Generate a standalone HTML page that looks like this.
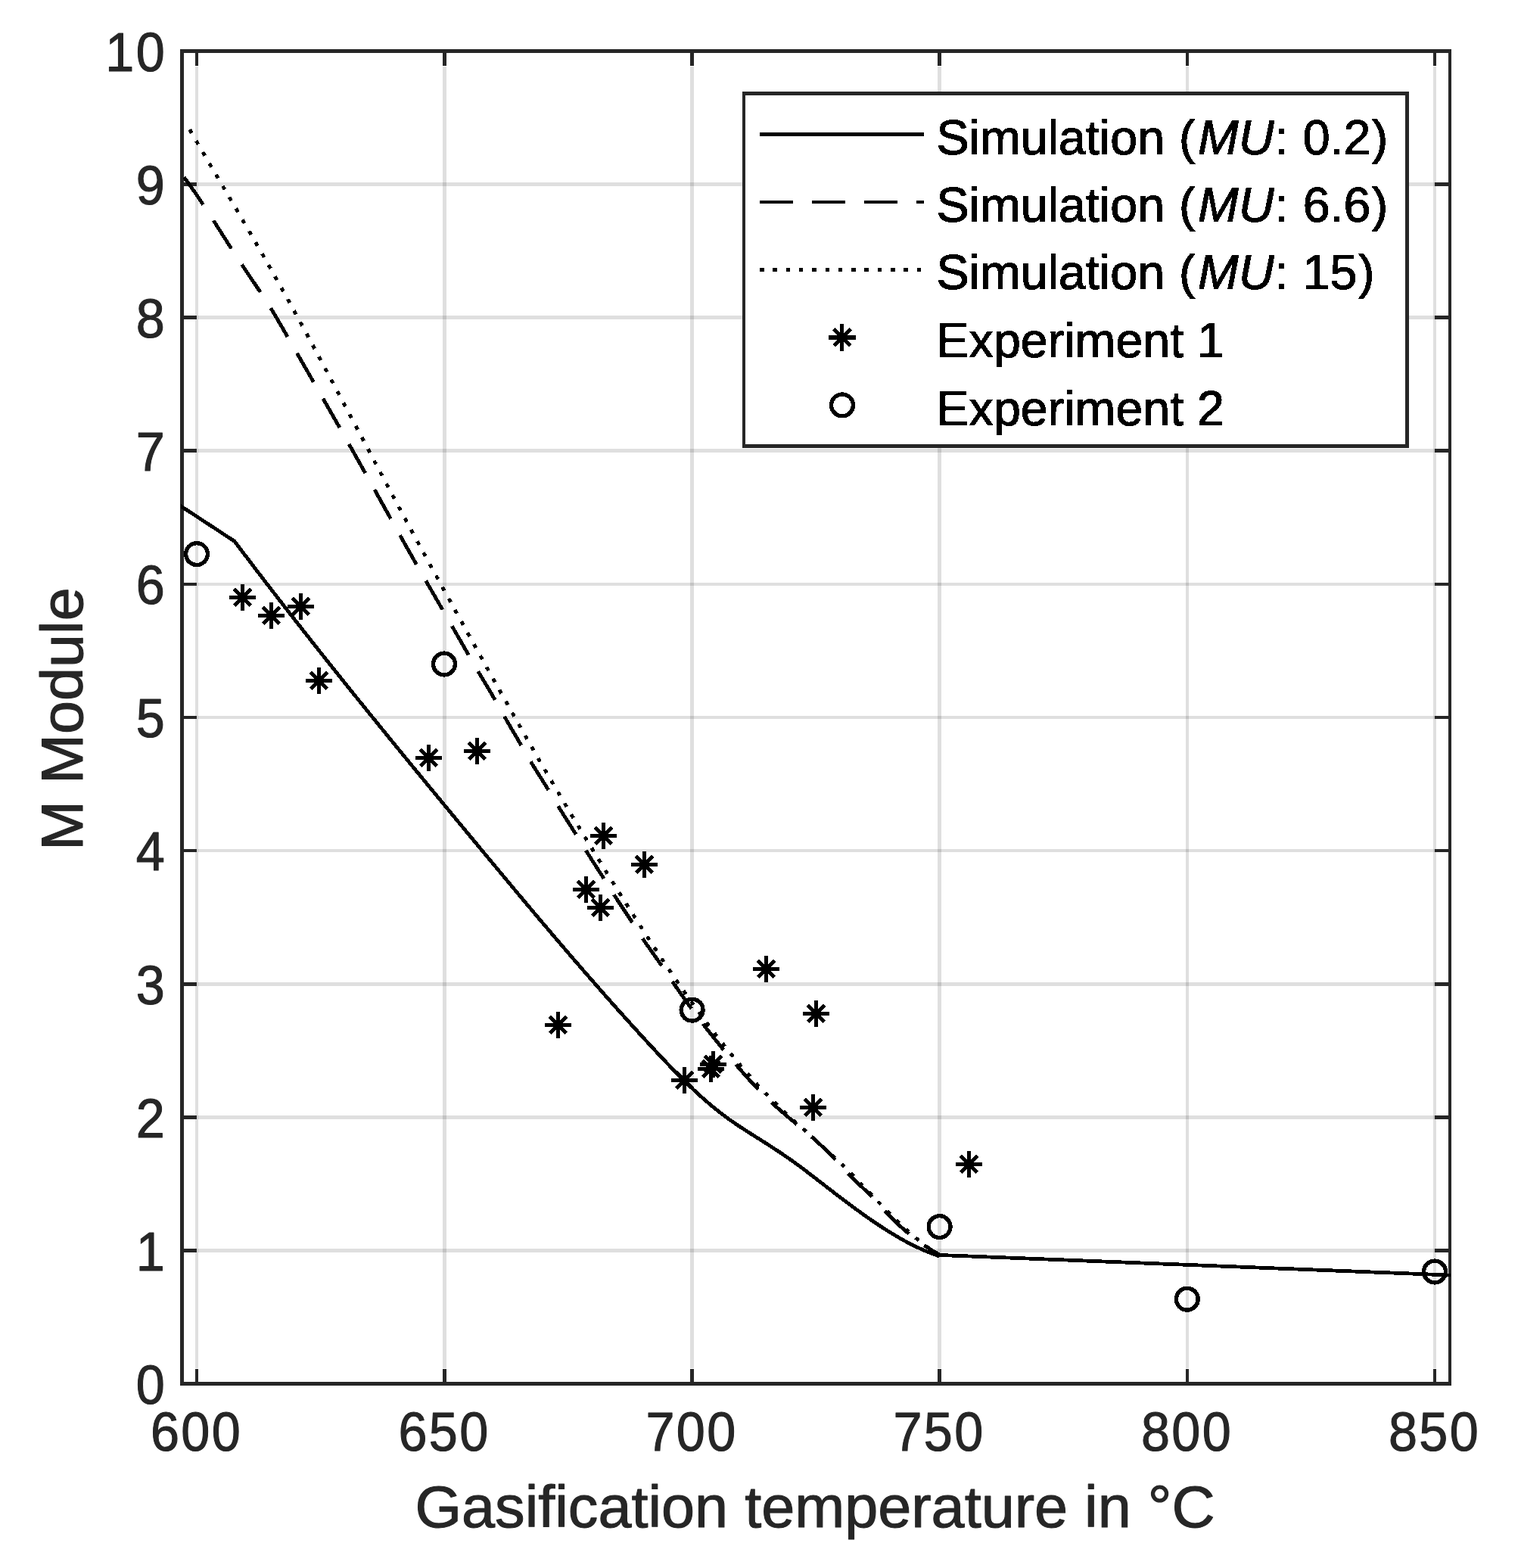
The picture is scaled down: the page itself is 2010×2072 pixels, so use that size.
<!DOCTYPE html>
<html lang="en">
<head>
<meta charset="utf-8">
<title>M Module vs. gasification temperature</title>
<style>html,body{margin:0;padding:0;background:#fff}body{width:2010px;height:2072px;overflow:hidden}svg{display:block}</style>
</head>
<body>
<svg width="2010" height="2072" viewBox="0 0 2010 2072" role="img" aria-label="M Module versus gasification temperature">
<rect width="2010" height="2072" fill="#fff"/>
<g id="grid" fill="#262626" fill-opacity="0.15" shape-rendering="crispEdges"><rect x="258" y="88" width="4" height="1720"/><rect x="585" y="88" width="5" height="1720"/><rect x="912" y="88" width="5" height="1720"/><rect x="1239" y="88" width="5" height="1720"/><rect x="1567" y="88" width="4" height="1720"/><rect x="1894" y="88" width="4" height="1720"/><rect x="261" y="241" width="1635" height="5"/><rect x="261" y="417" width="1635" height="5"/><rect x="261" y="593" width="1635" height="5"/><rect x="261" y="770" width="1635" height="4"/><rect x="261" y="946" width="1635" height="4"/><rect x="261" y="1122" width="1635" height="4"/><rect x="261" y="1298" width="1635" height="5"/><rect x="261" y="1474" width="1635" height="5"/><rect x="261" y="1650" width="1635" height="5"/></g>
<g id="axes" fill="#262626" shape-rendering="crispEdges"><rect x="238" y="65" width="1680" height="5"/><rect x="238" y="1826" width="1680" height="5"/><rect x="238" y="65" width="5" height="1766"/><rect x="1914" y="65" width="4" height="1766"/><rect x="258" y="70" width="4" height="17"/><rect x="258" y="1809" width="4" height="17"/><rect x="585" y="70" width="5" height="17"/><rect x="585" y="1809" width="5" height="17"/><rect x="912" y="70" width="5" height="17"/><rect x="912" y="1809" width="5" height="17"/><rect x="1239" y="70" width="5" height="17"/><rect x="1239" y="1809" width="5" height="17"/><rect x="1567" y="70" width="4" height="17"/><rect x="1567" y="1809" width="4" height="17"/><rect x="1894" y="70" width="4" height="17"/><rect x="1894" y="1809" width="4" height="17"/><rect x="243" y="241" width="17" height="5"/><rect x="1896" y="241" width="18" height="5"/><rect x="243" y="417" width="17" height="5"/><rect x="1896" y="417" width="18" height="5"/><rect x="243" y="593" width="17" height="5"/><rect x="1896" y="593" width="18" height="5"/><rect x="243" y="770" width="17" height="4"/><rect x="1896" y="770" width="18" height="4"/><rect x="243" y="946" width="17" height="4"/><rect x="1896" y="946" width="18" height="4"/><rect x="243" y="1122" width="17" height="4"/><rect x="1896" y="1122" width="18" height="4"/><rect x="243" y="1298" width="17" height="5"/><rect x="1896" y="1298" width="18" height="5"/><rect x="243" y="1474" width="17" height="5"/><rect x="1896" y="1474" width="18" height="5"/><rect x="243" y="1650" width="17" height="5"/><rect x="1896" y="1650" width="18" height="5"/></g>
<defs><clipPath id="c"><rect x="239" y="67.5" width="1678" height="1761"/></clipPath></defs>
<g id="curves" clip-path="url(#c)" fill="none" stroke="#000" stroke-width="4.8" stroke-linejoin="round" shape-rendering="crispEdges">
<path d="M236 666.8L310 715.3L315.62 722.75L318.74 726.87L321.85 730.99L324.96 735.1L328.07 739.2L331.18 743.29L334.3 747.38L337.41 751.46L340.52 755.54L343.63 759.61L346.74 763.67L349.86 767.73L352.97 771.78L356.08 775.82L359.19 779.86L362.3 783.89L365.42 787.92L368.53 791.94L371.64 795.96L374.75 799.97L377.86 803.97L380.98 807.97L384.09 811.96L387.2 815.95L390.31 819.93L393.43 823.91L396.54 827.88L399.65 831.85L402.76 835.81L405.87 839.77L408.99 843.72L412.1 847.67L415.21 851.61L418.32 855.55L421.43 859.48L424.55 863.41L427.66 867.33L430.77 871.25L433.88 875.16L436.99 879.07L440.11 882.98L443.22 886.88L446.33 890.78L449.44 894.67L452.55 898.56L455.67 902.44L458.78 906.32L461.89 910.2L465 914.07L468.11 917.94L471.23 921.8L474.34 925.67L477.45 929.52L480.56 933.38L483.67 937.23L486.79 941.08L489.9 944.92L493.01 948.76L496.12 952.6L499.23 956.43L502.35 960.26L505.46 964.09L508.57 967.91L511.68 971.73L514.79 975.55L517.91 979.37L521.02 983.18L524.13 986.99L527.24 990.8L530.35 994.61L533.47 998.41L536.58 1002.21L539.69 1006.01L542.8 1009.8L545.92 1013.59L549.03 1017.39L552.14 1021.17L555.25 1024.96L558.36 1028.75L561.48 1032.53L564.59 1036.31L567.7 1040.09L570.81 1043.86L573.92 1047.64L577.04 1051.41L580.15 1055.18L583.26 1058.96L586.37 1062.72L589.48 1066.49L592.6 1070.26L595.71 1074.02L598.82 1077.79L601.93 1081.55L605.04 1085.31L608.16 1089.07L611.27 1092.83L614.38 1096.59L617.49 1100.34L620.6 1104.1L623.72 1107.85L626.83 1111.61L629.94 1115.36L633.05 1119.11L636.16 1122.87L639.28 1126.61L642.39 1130.36L645.5 1134.11L648.61 1137.85L651.72 1141.59L654.84 1145.33L657.95 1149.07L661.06 1152.81L664.17 1156.54L667.28 1160.27L670.4 1164L673.51 1167.73L676.62 1171.45L679.73 1175.17L682.84 1178.89L685.96 1182.6L689.07 1186.31L692.18 1190.02L695.29 1193.72L698.41 1197.42L701.52 1201.12L704.63 1204.81L707.74 1208.5L710.85 1212.19L713.97 1215.87L717.08 1219.55L720.19 1223.22L723.3 1226.89L726.41 1230.55L729.53 1234.21L732.64 1237.86L735.75 1241.51L738.86 1245.16L741.97 1248.8L745.09 1252.43L748.2 1256.06L751.31 1259.68L754.42 1263.3L757.53 1266.91L760.65 1270.52L763.76 1274.12L766.87 1277.71L769.98 1281.3L773.09 1284.89L776.21 1288.46L779.32 1292.03L782.43 1295.59L785.54 1299.15L788.65 1302.7L791.77 1306.24L794.88 1309.78L797.99 1313.31L801.1 1316.83L804.21 1320.34L807.33 1323.85L810.44 1327.35L813.55 1330.84L816.66 1334.33L819.77 1337.8L822.89 1341.27L826 1344.73L829.11 1348.19L832.22 1351.63L835.33 1355.07L838.45 1358.49L841.56 1361.91L844.67 1365.32L847.78 1368.72L850.89 1372.11L854.01 1375.5L857.12 1378.87L860.23 1382.24L863.34 1385.59L866.46 1388.94L869.57 1392.27L872.68 1395.6L875.79 1398.92L878.9 1402.22L882.02 1405.5L885.13 1408.76L888.24 1412L891.35 1415.21L894.46 1418.39L897.58 1421.54L900.69 1424.66L903.8 1427.75L906.91 1430.8L910.02 1433.81L913.14 1436.79L916.25 1439.73L919.36 1442.63L922.47 1445.49L925.58 1448.31L928.7 1451.09L931.81 1453.83L934.92 1456.52L938.03 1459.17L941.14 1461.77L944.26 1464.33L947.37 1466.83L950.48 1469.29L953.59 1471.7L956.7 1474.06L959.82 1476.36L962.93 1478.62L966.04 1480.83L969.15 1483L972.26 1485.13L975.38 1487.22L978.49 1489.29L981.6 1491.32L984.71 1493.34L987.82 1495.34L990.94 1497.32L994.05 1499.29L997.16 1501.25L1000.27 1503.21L1003.38 1505.17L1006.5 1507.14L1009.61 1509.11L1012.72 1511.1L1015.83 1513.09L1018.95 1515.1L1022.06 1517.12L1025.17 1519.16L1028.28 1521.21L1031.39 1523.29L1034.51 1525.39L1037.62 1527.51L1040.73 1529.66L1043.84 1531.83L1046.95 1534.04L1050.07 1536.27L1053.18 1538.53L1056.29 1540.82L1059.4 1543.13L1062.51 1545.47L1065.63 1547.82L1068.74 1550.19L1071.85 1552.57L1074.96 1554.96L1078.07 1557.37L1081.19 1559.77L1084.3 1562.19L1087.41 1564.6L1090.52 1567.01L1093.63 1569.42L1096.75 1571.82L1099.86 1574.22L1102.97 1576.62L1106.08 1579L1109.19 1581.38L1112.31 1583.74L1115.42 1586.1L1118.53 1588.44L1121.64 1590.78L1124.75 1593.09L1127.87 1595.4L1130.98 1597.68L1134.09 1599.95L1137.2 1602.21L1140.31 1604.44L1143.43 1606.65L1146.54 1608.84L1149.65 1611.01L1152.76 1613.16L1155.87 1615.28L1158.99 1617.37L1162.1 1619.44L1165.21 1621.48L1168.32 1623.5L1171.44 1625.48L1174.55 1627.43L1177.66 1629.35L1180.77 1631.24L1183.88 1633.09L1187 1634.91L1190.11 1636.69L1193.22 1638.44L1196.33 1640.15L1199.44 1641.82L1202.56 1643.44L1205.67 1645.03L1208.78 1646.57L1211.89 1648.07L1215 1649.53L1218.12 1650.94L1221.23 1652.31L1224.34 1653.62L1227.45 1654.89L1230.56 1656.11L1233.68 1657.27L1236.79 1658.39L1239.9 1659.45L1240.5 1658.4L1920 1685.2"/>
<path d="M237.5 226.95L240.01 230.15L242.53 233.42L245.04 236.76L247.56 240.15L250.07 243.61L252.58 247.11L255.1 250.68L257.61 254.29L260.12 257.94L262.64 261.64L265.15 265.38L267.67 269.15L270.18 272.96L272.69 276.8L275.21 280.66L277.72 284.55L280.23 288.45L282.75 292.37L285.26 296.31L287.78 300.26L290.29 304.21L292.8 308.17L295.32 312.13L297.83 316.08L300.34 320.03L302.86 323.97L305.37 327.9L307.89 331.81L310.4 335.7L312.91 339.57L315.43 343.42L317.94 347.24L320.45 351.02L322.97 354.78L325.48 358.51L328 362.23L330.51 365.93L333.02 369.63L335.54 373.34L338.05 377.05L340.57 380.78L343.08 384.54L345.59 388.32L348.11 392.14L350.62 396.01L353.13 399.92L355.65 403.9L358.16 407.93L360.68 412.04L363.19 416.2L365.7 420.42L368.22 424.69L370.73 428.99L373.24 433.33L375.76 437.68L378.27 442.05L380.79 446.42L383.3 450.79L385.81 455.16L388.33 459.53L390.84 463.9L393.35 468.27L395.87 472.64L398.38 477.01L400.9 481.39L403.41 485.76L405.92 490.14L408.44 494.51L410.95 498.89L413.46 503.27L415.98 507.65L418.49 512.03L421.01 516.42L423.52 520.81L426.03 525.2L428.55 529.59L431.06 533.99L433.58 538.38L436.09 542.79L438.6 547.19L441.12 551.6L443.63 556.01L446.14 560.42L448.66 564.84L451.17 569.26L453.69 573.69L456.2 578.12L458.71 582.56L461.23 587L463.74 591.44L466.25 595.89L468.77 600.34L471.28 604.8L473.8 609.27L476.31 613.74L478.82 618.21L481.34 622.69L483.85 627.18L486.36 631.67L488.88 636.17L491.39 640.67L493.91 645.18L496.42 649.68L498.93 654.2L501.45 658.71L503.96 663.22L506.47 667.73L508.99 672.25L511.5 676.76L514.02 681.27L516.53 685.78L519.04 690.28L521.56 694.78L524.07 699.28L526.59 703.77L529.1 708.25L531.61 712.73L534.13 717.2L536.64 721.67L539.15 726.12L541.67 730.57L544.18 735.01L546.7 739.43L549.21 743.85L551.72 748.25L554.24 752.64L556.75 757.03L559.26 761.4L561.78 765.76L564.29 770.12L566.81 774.48L569.32 778.82L571.83 783.17L574.35 787.51L576.86 791.85L579.37 796.2L581.89 800.54L584.4 804.88L586.92 809.23L589.43 813.59L591.94 817.95L594.46 822.31L596.97 826.69L599.48 831.07L602 835.46L604.51 839.85L607.03 844.24L609.54 848.63L612.05 853.02L614.57 857.4L617.08 861.77L619.6 866.12L622.11 870.46L624.62 874.79L627.14 879.09L629.65 883.36L632.16 887.61L634.68 891.84L637.19 896.05L639.71 900.25L642.22 904.46L644.73 908.68L647.25 912.92L649.76 917.19L652.27 921.51L654.79 925.88L657.3 930.3L659.82 934.76L662.33 939.24L664.84 943.7L667.36 948.12L669.87 952.5L672.38 956.84L674.9 961.15L677.41 965.45L679.93 969.73L682.44 974.01L684.95 978.29L687.47 982.59L689.98 986.9L692.49 991.24L695.01 995.58L697.52 999.89L700.04 1004.15L702.55 1008.34L705.06 1012.46L707.58 1016.53L710.09 1020.55L712.61 1024.54L715.12 1028.53L717.63 1032.51L720.15 1036.51L722.66 1040.55L725.17 1044.63L727.69 1048.77L730.2 1052.95L732.72 1057.14L735.23 1061.31L737.74 1065.44L740.26 1069.53L742.77 1073.56L745.28 1077.56L747.8 1081.54L750.31 1085.5L752.83 1089.46L755.34 1093.42L757.85 1097.4L760.37 1101.4L762.88 1105.44L765.39 1109.51L767.91 1113.59L770.42 1117.67L772.94 1121.73L775.45 1125.75L777.96 1129.73L780.48 1133.68L782.99 1137.61L785.51 1141.52L788.02 1145.42L790.53 1149.33L793.05 1153.25L795.56 1157.18L798.07 1161.15L800.59 1165.15L803.1 1169.18L805.62 1173.2L808.13 1177.2L810.64 1181.16L813.16 1185.07L815.67 1188.92L818.18 1192.73L820.7 1196.52L823.21 1200.28L825.73 1204.04L828.24 1207.81L830.75 1211.59L833.27 1215.4L835.78 1219.25L838.29 1223.15L840.81 1227.08L843.32 1231.01L845.84 1234.91L848.35 1238.76L850.86 1242.52L853.38 1246.21L855.89 1249.84L858.4 1253.41L860.92 1256.96L863.43 1260.48L865.95 1264L868.46 1267.53L870.97 1271.09L873.49 1274.69L876 1278.34L878.52 1282.04L881.03 1285.77L883.54 1289.52L886.06 1293.28L888.57 1297.01L891.08 1300.72L893.6 1304.39L896.11 1308.03L898.63 1311.64L901.14 1315.22L903.65 1318.77L906.17 1322.3L908.68 1325.79L911.19 1329.26L913.71 1332.7L916.22 1336.11L918.74 1339.5L921.25 1342.86L923.76 1346.2L926.28 1349.51L928.79 1352.8L931.3 1356.06L933.82 1359.31L936.33 1362.53L938.85 1365.73L941.36 1368.91L943.87 1372.07L946.39 1375.21L948.9 1378.33L951.41 1381.43L953.93 1384.52L956.44 1387.59L958.96 1390.64L961.47 1393.67L963.98 1396.69L966.5 1399.68L969.01 1402.66L971.53 1405.61L974.04 1408.55L976.55 1411.46L979.07 1414.34L981.58 1417.2L984.09 1420.04L986.61 1422.85L989.12 1425.63L991.64 1428.38L994.15 1431.11L996.66 1433.8L999.18 1436.46L1001.69 1439.09L1004.2 1441.69L1006.72 1444.25L1009.23 1446.78L1011.75 1449.27L1014.26 1451.72L1016.77 1454.14L1019.29 1456.52L1021.8 1458.86L1024.31 1461.16L1026.83 1463.43L1029.34 1465.67L1031.86 1467.88L1034.37 1470.06L1036.88 1472.23L1039.4 1474.37L1041.91 1476.5L1044.42 1478.62L1046.94 1480.72L1049.45 1482.83L1051.97 1484.92L1054.48 1487.02L1056.99 1489.12L1059.51 1491.22L1062.02 1493.33L1064.54 1495.45L1067.05 1497.59L1069.56 1499.74L1072.08 1501.92L1074.59 1504.12L1077.1 1506.34L1079.62 1508.6L1082.13 1510.88L1084.65 1513.21L1087.16 1515.57L1089.67 1517.97L1092.19 1520.41L1094.7 1522.91L1097.21 1525.45L1099.73 1528.05L1102.24 1530.7L1104.76 1533.41L1107.27 1536.18L1109.78 1538.97L1112.3 1541.76L1114.81 1544.55L1117.32 1547.29L1119.84 1549.98L1122.35 1552.58L1124.87 1555.12L1127.38 1557.59L1129.89 1560.01L1132.41 1562.39L1134.92 1564.76L1137.43 1567.11L1139.95 1569.47L1142.46 1571.85L1144.98 1574.26L1147.49 1576.71L1150 1579.22L1152.52 1581.81L1155.03 1584.46L1157.55 1587.17L1160.06 1589.92L1162.57 1592.69L1165.09 1595.46L1167.6 1598.21L1170.11 1600.92L1172.63 1603.58L1175.14 1606.19L1177.66 1608.76L1180.17 1611.28L1182.68 1613.74L1185.2 1616.17L1187.71 1618.54L1190.22 1620.86L1192.74 1623.14L1195.25 1625.37L1197.77 1627.55L1200.28 1629.68L1202.79 1631.76L1205.31 1633.8L1207.82 1635.79L1210.33 1637.73L1212.85 1639.62L1215.36 1641.46L1217.88 1643.26L1220.39 1645.01L1222.9 1646.71L1225.42 1648.37L1227.93 1649.98L1230.44 1651.54L1232.96 1653.05L1235.47 1654.52L1237.99 1655.93L1240.5 1657.3" stroke-dasharray="44.0 25.1" stroke-dashoffset="59.74"/>
<path d="M250.6 171.05L253.08 175.35L255.56 179.65L258.05 183.93L260.53 188.2L263.01 192.47L265.49 196.73L267.98 200.98L270.46 205.23L272.94 209.47L275.42 213.71L277.9 217.94L280.39 222.17L282.87 226.39L285.35 230.61L287.83 234.83L290.32 239.05L292.8 243.27L295.28 247.48L297.76 251.7L300.24 255.91L302.73 260.13L305.21 264.35L307.69 268.58L310.17 272.8L312.66 277.03L315.14 281.26L317.62 285.5L320.1 289.75L322.58 294L325.07 298.25L327.55 302.52L330.03 306.79L332.51 311.07L334.99 315.36L337.48 319.65L339.96 323.96L342.44 328.28L344.92 332.61L347.41 336.95L349.89 341.31L352.37 345.68L354.85 350.05L357.33 354.45L359.82 358.85L362.3 363.26L364.78 367.69L367.26 372.12L369.75 376.57L372.23 381.03L374.71 385.5L377.19 389.98L379.67 394.47L382.16 398.96L384.64 403.47L387.12 407.99L389.6 412.51L392.09 417.05L394.57 421.59L397.05 426.15L399.53 430.71L402.01 435.27L404.5 439.85L406.98 444.43L409.46 449.02L411.94 453.62L414.43 458.23L416.91 462.84L419.39 467.46L421.87 472.08L424.35 476.71L426.84 481.35L429.32 485.99L431.8 490.63L434.28 495.28L436.77 499.94L439.25 504.6L441.73 509.27L444.21 513.94L446.69 518.61L449.18 523.29L451.66 527.97L454.14 532.65L456.62 537.34L459.11 542.03L461.59 546.72L464.07 551.41L466.55 556.1L469.03 560.79L471.52 565.49L474 570.18L476.48 574.88L478.96 579.57L481.45 584.27L483.93 588.96L486.41 593.65L488.89 598.34L491.37 603.03L493.86 607.72L496.34 612.41L498.82 617.09L501.3 621.77L503.78 626.44L506.27 631.11L508.75 635.78L511.23 640.45L513.71 645.1L516.2 649.76L518.68 654.41L521.16 659.05L523.64 663.69L526.12 668.32L528.61 672.95L531.09 677.56L533.57 682.18L536.05 686.78L538.54 691.38L541.02 695.98L543.5 700.56L545.98 705.15L548.46 709.72L550.95 714.29L553.43 718.86L555.91 723.42L558.39 727.97L560.88 732.53L563.36 737.07L565.84 741.61L568.32 746.15L570.8 750.68L573.29 755.21L575.77 759.74L578.25 764.26L580.73 768.78L583.22 773.29L585.7 777.8L588.18 782.31L590.66 786.81L593.14 791.32L595.63 795.82L598.11 800.31L600.59 804.81L603.07 809.3L605.56 813.79L608.04 818.28L610.52 822.77L613 827.25L615.48 831.74L617.97 836.22L620.45 840.7L622.93 845.18L625.41 849.66L627.9 854.14L630.38 858.62L632.86 863.09L635.34 867.56L637.82 872.03L640.31 876.5L642.79 880.96L645.27 885.43L647.75 889.88L650.24 894.34L652.72 898.79L655.2 903.23L657.68 907.68L660.16 912.11L662.65 916.55L665.13 920.98L667.61 925.4L670.09 929.82L672.57 934.23L675.06 938.63L677.54 943.04L680.02 947.43L682.5 951.82L684.99 956.2L687.47 960.57L689.95 964.94L692.43 969.3L694.91 973.65L697.4 978L699.88 982.33L702.36 986.66L704.84 990.98L707.33 995.3L709.81 999.6L712.29 1003.89L714.77 1008.18L717.25 1012.45L719.74 1016.72L722.22 1020.97L724.7 1025.22L727.18 1029.46L729.67 1033.69L732.15 1037.91L734.63 1042.12L737.11 1046.33L739.59 1050.52L742.08 1054.71L744.56 1058.89L747.04 1063.06L749.52 1067.22L752.01 1071.37L754.49 1075.52L756.97 1079.66L759.45 1083.79L761.93 1087.91L764.42 1092.02L766.9 1096.13L769.38 1100.23L771.86 1104.32L774.35 1108.4L776.83 1112.48L779.31 1116.55L781.79 1120.61L784.27 1124.66L786.76 1128.71L789.24 1132.75L791.72 1136.78L794.2 1140.81L796.69 1144.83L799.17 1148.84L801.65 1152.85L804.13 1156.85L806.61 1160.84L809.1 1164.83L811.58 1168.81L814.06 1172.78L816.54 1176.75L819.03 1180.71L821.51 1184.67L823.99 1188.61L826.47 1192.55L828.95 1196.48L831.44 1200.4L833.92 1204.32L836.4 1208.22L838.88 1212.12L841.36 1216L843.85 1219.88L846.33 1223.74L848.81 1227.6L851.29 1231.45L853.78 1235.28L856.26 1239.11L858.74 1242.92L861.22 1246.72L863.7 1250.51L866.19 1254.29L868.67 1258.05L871.15 1261.8L873.63 1265.54L876.12 1269.27L878.6 1272.98L881.08 1276.68L883.56 1280.36L886.04 1284.03L888.53 1287.69L891.01 1291.33L893.49 1294.96L895.97 1298.57L898.46 1302.16L900.94 1305.74L903.42 1309.3L905.9 1312.85L908.38 1316.38L910.87 1319.89L913.35 1323.39L915.83 1326.87L918.31 1330.33L920.8 1333.77L923.28 1337.19L925.76 1340.59L928.24 1343.98L930.72 1347.35L933.21 1350.69L935.69 1354.02L938.17 1357.33L940.65 1360.61L943.14 1363.88L945.62 1367.12L948.1 1370.35L950.58 1373.55L953.06 1376.73L955.55 1379.89L958.03 1383.02L960.51 1386.13L962.99 1389.22L965.48 1392.29L967.96 1395.33L970.44 1398.35L972.92 1401.34L975.4 1404.31L977.89 1407.26L980.37 1410.18L982.85 1413.07L985.33 1415.94L987.82 1418.78L990.3 1421.6L992.78 1424.39L995.26 1427.15L997.74 1429.89L1000.23 1432.6L1002.71 1435.28L1005.19 1437.93L1007.67 1440.56L1010.15 1443.15L1012.64 1445.72L1015.12 1448.26L1017.6 1450.77L1020.08 1453.25L1022.57 1455.72L1025.05 1458.15L1027.53 1460.57L1030.01 1462.96L1032.49 1465.34L1034.98 1467.69L1037.46 1470.03L1039.94 1472.35L1042.42 1474.66L1044.91 1476.95L1047.39 1479.23L1049.87 1481.5L1052.35 1483.76L1054.83 1486.02L1057.32 1488.26L1059.8 1490.5L1062.28 1492.73L1064.76 1494.96L1067.25 1497.19L1069.73 1499.41L1072.21 1501.64L1074.69 1503.87L1077.17 1506.1L1079.66 1508.33L1082.14 1510.57L1084.62 1512.82L1087.1 1515.07L1089.59 1517.33L1092.07 1519.6L1094.55 1521.88L1097.03 1524.18L1099.51 1526.49L1102 1528.81L1104.48 1531.15L1106.96 1533.51L1109.44 1535.88L1111.93 1538.28L1114.41 1540.7L1116.89 1543.13L1119.37 1545.59L1121.85 1548.07L1124.34 1550.56L1126.82 1553.07L1129.3 1555.59L1131.78 1558.12L1134.27 1560.67L1136.75 1563.22L1139.23 1565.79L1141.71 1568.36L1144.19 1570.93L1146.68 1573.51L1149.16 1576.1L1151.64 1578.68L1154.12 1581.27L1156.61 1583.85L1159.09 1586.43L1161.57 1589.01L1164.05 1591.58L1166.53 1594.14L1169.02 1596.7L1171.5 1599.24L1173.98 1601.77L1176.46 1604.28L1178.94 1606.78L1181.43 1609.25L1183.91 1611.71L1186.39 1614.14L1188.87 1616.54L1191.36 1618.92L1193.84 1621.27L1196.32 1623.59L1198.8 1625.87L1201.28 1628.12L1203.77 1630.32L1206.25 1632.49L1208.73 1634.62L1211.21 1636.71L1213.7 1638.75L1216.18 1640.74L1218.66 1642.68L1221.14 1644.57L1223.62 1646.4L1226.11 1648.18L1228.59 1649.9L1231.07 1651.57L1233.55 1653.17L1236.04 1654.7L1238.52 1656.18L1241 1657.58" stroke-dasharray="5.4 11.87" stroke-dashoffset="17.16"/>
</g>
<g id="markers" fill="none" stroke="#000" stroke-width="5" shape-rendering="crispEdges">
<path d="M303 789.5H338M320.5 772V807M341 813.5H376M358.5 796V831M380 801.5H415M397.5 784V819M404 899.5H439M421.5 882V917M549 1001.5H584M566.5 984V1019M613 992.5H648M630.5 975V1010M780 1104.5H815M797.5 1087V1122M834 1142.5H869M851.5 1125V1160M757 1175.5H792M774.5 1158V1193M776 1199.5H811M793.5 1182V1217M720 1354.5H755M737.5 1337V1372M995 1280.5H1030M1012.5 1263V1298M1061 1339.5H1096M1078.5 1322V1357M925 1406.5H960M942.5 1389V1424M922 1412.5H957M939.5 1395V1430M887 1427.5H922M904.5 1410V1445M1057 1463.5H1092M1074.5 1446V1481M1263 1538.5H1298M1280.5 1521V1556"/>
<path stroke-width="5.4" d="M309.5 778.5L331.5 800.5M309.5 800.5L331.5 778.5M347.5 802.5L369.5 824.5M347.5 824.5L369.5 802.5M386.5 790.5L408.5 812.5M386.5 812.5L408.5 790.5M410.5 888.5L432.5 910.5M410.5 910.5L432.5 888.5M555.5 990.5L577.5 1012.5M555.5 1012.5L577.5 990.5M619.5 981.5L641.5 1003.5M619.5 1003.5L641.5 981.5M786.5 1093.5L808.5 1115.5M786.5 1115.5L808.5 1093.5M840.5 1131.5L862.5 1153.5M840.5 1153.5L862.5 1131.5M763.5 1164.5L785.5 1186.5M763.5 1186.5L785.5 1164.5M782.5 1188.5L804.5 1210.5M782.5 1210.5L804.5 1188.5M726.5 1343.5L748.5 1365.5M726.5 1365.5L748.5 1343.5M1001.5 1269.5L1023.5 1291.5M1001.5 1291.5L1023.5 1269.5M1067.5 1328.5L1089.5 1350.5M1067.5 1350.5L1089.5 1328.5M931.5 1395.5L953.5 1417.5M931.5 1417.5L953.5 1395.5M928.5 1401.5L950.5 1423.5M928.5 1423.5L950.5 1401.5M893.5 1416.5L915.5 1438.5M893.5 1438.5L915.5 1416.5M1063.5 1452.5L1085.5 1474.5M1063.5 1474.5L1085.5 1452.5M1269.5 1527.5L1291.5 1549.5M1269.5 1549.5L1291.5 1527.5"/>
<circle cx="260" cy="732.1" r="14.4" stroke-width="5.4"/>
<circle cx="587" cy="877.5" r="14.4" stroke-width="5.4"/>
<circle cx="914.6" cy="1334.6" r="14.4" stroke-width="5.4"/>
<circle cx="1241.6" cy="1621.1" r="14.4" stroke-width="5.4"/>
<circle cx="1568.8" cy="1716.7" r="14.4" stroke-width="5.4"/>
<circle cx="1896" cy="1680.5" r="14.4" stroke-width="5.4"/>
</g>
<g id="ticklabels" font-family="'Liberation Sans', sans-serif" font-size="72" letter-spacing="2.5" fill="#262626" stroke="#262626" stroke-width="1.1" stroke-linejoin="round"><text transform="translate(259.5 1916.6) scale(0.95 1)" text-anchor="middle">600</text><text transform="translate(587 1916.6) scale(0.95 1)" text-anchor="middle">650</text><text transform="translate(914 1916.6) scale(0.95 1)" text-anchor="middle">700</text><text transform="translate(1241 1916.6) scale(0.95 1)" text-anchor="middle">750</text><text transform="translate(1568.5 1916.6) scale(0.95 1)" text-anchor="middle">800</text><text transform="translate(1895.5 1916.6) scale(0.95 1)" text-anchor="middle">850</text><text transform="translate(220.2 1854.6) scale(0.95 1)" text-anchor="end">0</text><text transform="translate(220.2 1678.6) scale(0.95 1)" text-anchor="end">1</text><text transform="translate(220.2 1502.6) scale(0.95 1)" text-anchor="end">2</text><text transform="translate(220.2 1326.6) scale(0.95 1)" text-anchor="end">3</text><text transform="translate(220.2 1150.1) scale(0.95 1)" text-anchor="end">4</text><text transform="translate(220.2 974.1) scale(0.95 1)" text-anchor="end">5</text><text transform="translate(220.2 798.1) scale(0.95 1)" text-anchor="end">6</text><text transform="translate(220.2 621.6) scale(0.95 1)" text-anchor="end">7</text><text transform="translate(220.2 445.6) scale(0.95 1)" text-anchor="end">8</text><text transform="translate(220.2 269.6) scale(0.95 1)" text-anchor="end">9</text><text transform="translate(220.2 93.6) scale(0.95 1)" text-anchor="end">10</text></g>
<g id="axislabels" font-family="'Liberation Sans', sans-serif" font-size="79.2" fill="#262626" stroke="#262626" stroke-width="1.1" stroke-linejoin="round">
<text transform="translate(1077 2017.8) scale(1 0.985)" text-anchor="middle">Gasification temperature in °C</text>
<text transform="translate(108.8 950.1) rotate(-90) scale(1 0.985)" text-anchor="middle">M Module</text>
</g>
<g id="legend">
<rect x="981" y="121" width="881" height="471" fill="#fff"/>
<g fill="#262626" shape-rendering="crispEdges"><rect x="981" y="121" width="881" height="5"/><rect x="981" y="587" width="881" height="5"/><rect x="981" y="121" width="4" height="471"/><rect x="1857" y="121" width="5" height="471"/></g>
<g fill="none" stroke="#000" shape-rendering="crispEdges">
<path d="M1004 177.5H1221" stroke-width="5"/>
<path d="M1004 267H1221" stroke-width="4" stroke-dasharray="44 25"/>
<path d="M1004 356.5H1221" stroke-width="5" stroke-dasharray="5.5 11.8"/>
</g>
<g fill="none" stroke="#000" stroke-width="5" shape-rendering="crispEdges">
<path stroke-width="6" d="M1095 446H1131"/><path stroke-width="5" d="M1112.5 428V464"/>
<path stroke-width="5.4" d="M1102 435L1124 457M1102 457L1124 435"/>
<circle cx="1113" cy="535.4" r="14.4" stroke-width="5.4"/>
</g>
<defs><filter id="hard" x="-2%" y="-5%" width="104%" height="110%" filterUnits="objectBoundingBox" color-interpolation-filters="sRGB"><feComponentTransfer><feFuncA type="discrete" tableValues="0 1"/></feComponentTransfer></filter></defs>
<g font-family="'Liberation Sans', sans-serif" font-size="64.8" fill="#000" stroke="#000" stroke-width="1.2" stroke-linejoin="round" filter="url(#hard)">
<text transform="translate(1237.5 203.8) scale(0.997 1)">Simulation <tspan dx="1.0">(</tspan><tspan font-style="italic" dx="3.6">MU</tspan><tspan dx="1.2">: </tspan><tspan dx="1.0">0.2</tspan><tspan dx="1.4">)</tspan></text>
<text transform="translate(1237.5 293.3) scale(0.997 1)">Simulation <tspan dx="1.0">(</tspan><tspan font-style="italic" dx="3.6">MU</tspan><tspan dx="1.2">: </tspan><tspan dx="1.0">6.6</tspan><tspan dx="1.4">)</tspan></text>
<text transform="translate(1237.5 382.2) scale(0.997 1)">Simulation <tspan dx="1.0">(</tspan><tspan font-style="italic" dx="3.6">MU</tspan><tspan dx="1.2">: </tspan><tspan dx="1.0">15</tspan><tspan dx="1.4">)</tspan></text>
<text transform="translate(1237.5 472.4) scale(0.997 1)">Experiment 1</text>
<text transform="translate(1237.5 561.8) scale(0.997 1)">Experiment 2</text>
</g></g>
</svg>
</body>
</html>
